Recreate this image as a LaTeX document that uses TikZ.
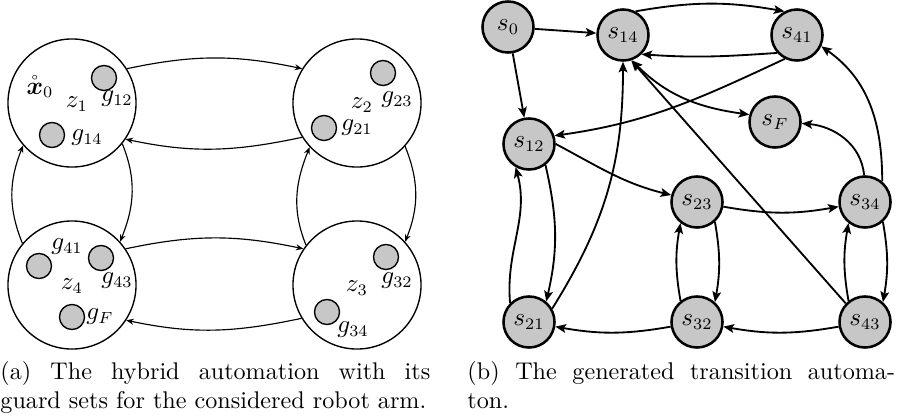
\documentclass[tikz,border=0pt]{standalone}
\usepackage{amsmath}
\usetikzlibrary{arrows.meta}
\begin{document}
\begin{tikzpicture}[x=0.435pt,y=0.435pt,
  zone/.style={circle,draw,line width=0.6pt,minimum size=55.7pt,inner sep=0pt},
  guard/.style={circle,draw,fill=black!22,line width=0.6pt,minimum size=10.9pt,inner sep=0pt},
  lbl/.style={inner sep=0pt,font=\fontsize{10.5pt}{12.6pt}\selectfont},
  tr/.style={line width=0.5pt,-{Stealth[length=3.2pt,width=2.6pt]}},
  st/.style={circle,draw,fill=black!22,line width=1.1pt,minimum size=22.2pt,inner sep=0pt,font=\fontsize{10.5pt}{12.6pt}\selectfont},
  ed/.style={line width=0.8pt,-{Stealth[length=4.6pt,width=3.8pt,inset=1pt]}},
  ded/.style={line width=0.8pt,{Stealth[length=4.6pt,width=3.8pt,inset=1pt]}-{Stealth[length=4.6pt,width=3.8pt,inset=1pt]}},
  captext/.style={anchor=north west,inner sep=0pt,align=justify,font=\fontsize{10.5pt}{12.6pt}\selectfont}]
\useasboundingbox (0,0) rectangle (902,-415);
% ---------- (a) hybrid automaton ----------
\node[zone] (z1) at (72,-103) {};
\node[zone] (z2) at (357,-103) {};
\node[zone] (z4) at (72,-285) {};
\node[zone] (z3) at (357,-285) {};
\node[guard] (g12c) at (104,-78) {};
\node[guard] (g14c) at (52,-135) {};
\node[guard] (g23c) at (383,-73) {};
\node[guard] (g21c) at (324,-128) {};
\node[guard] (g41c) at (39,-266) {};
\node[guard] (g43c) at (101,-258) {};
\node[guard] (gFc) at (72,-317) {};
\node[guard] (g32c) at (386,-257) {};
\node[guard] (g34c) at (327,-312) {};
\node[lbl] (x0) at (40,-87) {$\mathring{\boldsymbol{x}}_0$};
\node[lbl] (lz1) at (77,-104) {$z_1$};
\node[lbl] (l12) at (117,-99) {$g_{12}$};
\node[lbl] (l14) at (87,-138) {$g_{14}$};
\node[lbl] (lz2) at (362,-105) {$z_2$};
\node[lbl] (l23) at (397,-100) {$g_{23}$};
\node[lbl] (l21) at (357,-128) {$g_{21}$};
\node[lbl] (l41) at (67,-247) {$g_{41}$};
\node[lbl] (l43) at (117,-281) {$g_{43}$};
\node[lbl] (lz4) at (72,-286) {$z_4$};
\node[lbl] (lF) at (100,-317) {$g_F$};
\node[lbl] (lz3) at (357,-288) {$z_3$};
\node[lbl] (l32) at (397,-281) {$g_{32}$};
\node[lbl] (l34) at (353,-330) {$g_{34}$};
\draw[tr] (z1.32) to[out=12,in=168] (z2.148);
\draw[tr] (z2.-148) to[out=-168,in=-12] (z1.-34);
\draw[tr] (z1.-39) to[out=-68,in=68] (z4.42);
\draw[tr] (z4.140) to[out=112,in=-112] (z1.-139);
\draw[tr] (z2.-42) to[out=-68,in=68] (z3.42);
\draw[tr] (z3.142) to[out=112,in=-112] (z2.-137);
\draw[tr] (z4.34) to[out=12,in=168] (z3.146);
\draw[tr] (z3.-149) to[out=-168,in=-12] (z4.-33);
% ---------- (b) transition automaton ----------
\node[st] (s0) at (508,-27) {$s_0$};
\node[st] (s14) at (623,-35) {$s_{14}$};
\node[st] (s41) at (797,-35) {$s_{41}$};
\node[st] (sF) at (775,-122) {$s_F$};
\node[st] (s12) at (529,-144) {$s_{12}$};
\node[st] (s23) at (697,-202) {$s_{23}$};
\node[st] (s34) at (865,-202) {$s_{34}$};
\node[st] (s21) at (529,-322) {$s_{21}$};
\node[st] (s32) at (697,-322) {$s_{32}$};
\node[st] (s43) at (865,-322) {$s_{43}$};
\draw[ed] (s0) -- (s14);
\draw[ed] (s0) -- (s12);
\draw[ed] (s14.62) to[out=10,in=170] (s41.118);
\draw[ed] (s41.-138) to[out=-176,in=-4] (s14.-46);
\draw[ed] (s41.-117) to[out=-155,in=8] (s12.18);
\draw[ded] (s14.-71) to[out=-45,in=172] (sF.164);
\draw[ed] (s12.0) to[out=-28,in=166] (s23.165);
\draw[ed] (s23) to[bend right=10] (s34);
\draw[ed] (s34.92) to[out=95,in=-5] (sF.-3);
\draw[ed] (s34.50) to[out=90,in=-35] (s41.-25);
\draw[ed] (s12.-52) to[out=-77,in=77] (s21.50);
\draw[ed] (s21.135) to[out=95,in=-75] (s12.-120);
\draw[ed] (s21.30) to[out=58,in=-90] (s14.-90);
\draw[ed] (s43.136) -- (s14.-72);
\draw[ed] (s23.-48) to[out=-80,in=80] (s32.48);
\draw[ed] (s32.128) to[out=100,in=-100] (s23.-128);
\draw[ed] (s34.-48) to[out=-80,in=80] (s43.48);
\draw[ed] (s43.128) to[out=100,in=-100] (s34.-128);
\draw[ed] (s32) to[bend left=10] (s21);
\draw[ed] (s43) to[bend left=10] (s32);
% ---------- captions ----------
\node[captext,text width=187pt] (capa) at (0,-361) {(a) The hybrid automation with its\linebreak guard sets for the considered robot arm.};
\node[captext,text width=186pt] (capb) at (467,-361) {(b) The generated transition automa-\linebreak ton.};
\end{tikzpicture}
\end{document}
